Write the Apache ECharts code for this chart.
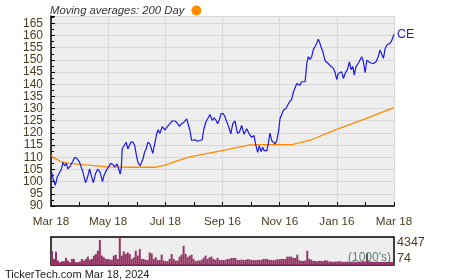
<!DOCTYPE html>
<html>
<head>
<meta charset="utf-8">
<script src="https://cdn.jsdelivr.net/npm/echarts@6/dist/echarts.min.js"></script>
<style>
html,body{margin:0;padding:0;background:#fff;}
#c{width:450px;height:280px;}
</style>
</head>
<body>
<div id="c"></div>
<script>
// x positions in months since Mar 18 (0..12)
const xTickLabels = ['Mar 18','May 18','Jul 18','Sep 16','Nov 16','Jan 16','Mar 18'];

const priceMonths = [0.01,0.07,0.15,0.22,0.28,0.36,0.42,0.48,0.54,0.59,0.68,0.77,0.83,0.92,1.00,1.10,1.15,1.21,1.27,1.35,1.41,1.48,1.56,1.64,1.72,1.80,1.85,1.93,1.99,2.09,2.17,2.23,2.31,2.37,2.42,2.46,2.49,2.55,2.63,2.69,2.79,2.87,2.93,2.98,3.04,3.12,3.22,3.28,3.33,3.39,3.46,3.56,3.64,3.70,3.75,3.81,3.89,3.99,4.07,4.16,4.24,4.34,4.42,4.49,4.57,4.66,4.75,4.80,4.86,4.92,4.98,5.04,5.12,5.21,5.29,5.35,5.42,5.50,5.56,5.64,5.71,5.77,5.83,5.89,5.95,6.03,6.09,6.15,6.20,6.29,6.36,6.44,6.52,6.59,6.67,6.75,6.85,6.94,7.02,7.10,7.17,7.23,7.29,7.35,7.41,7.46,7.55,7.60,7.66,7.72,7.78,7.84,7.90,7.93,7.97,8.01,8.07,8.13,8.22,8.28,8.34,8.42,8.48,8.54,8.60,8.65,8.71,8.77,8.83,8.89,8.95,9.00,9.06,9.12,9.18,9.24,9.30,9.35,9.39,9.44,9.51,9.59,9.67,9.76,9.82,9.88,9.94,10.00,10.05,10.11,10.17,10.23,10.29,10.37,10.44,10.50,10.56,10.61,10.67,10.75,10.81,10.87,10.93,10.99,11.05,11.10,11.16,11.22,11.28,11.37,11.45,11.51,11.57,11.63,11.69,11.75,11.80,11.86,11.92,12.00];
const priceValues = [104.5,101.4,98.5,102,102,105,107.9,106.5,107.5,105.2,106.5,108.6,110,109.4,107.9,104.5,102.4,99.6,101.4,105.2,102.4,99.6,103.4,105.2,103.8,100,102.4,104.5,105.2,107.5,107,106.1,107.3,105.2,103.1,105.8,113.4,112.7,116.2,113.4,116.2,116.2,114.8,111.3,107.9,106.5,109.4,112.4,113.4,116.2,115.5,111.6,116.2,119.8,121.3,119.8,122.6,121.2,122.6,123.8,124.9,124.9,124.1,122.7,123.8,124.5,125.8,125.2,121,116.9,116.2,117.2,116.6,116.9,117.2,121.7,124.5,126.2,127.6,125.2,126.2,125.2,123.8,125.5,127.9,127.9,126.5,124.5,123.1,119.6,123.8,124.9,119.9,120.3,123.1,119.5,121.7,119.5,118.2,118.9,114.8,112,114.8,112.3,114.1,112.7,112.7,115.5,119.9,116.9,117.2,115.5,116.9,117.2,121.3,125.8,126.6,129.3,130,130.4,132.7,133.8,136.8,137.5,140.3,141,139.6,141,141.2,141,148.6,151.3,150.2,151.3,154.3,155.5,156.8,158.5,157.5,155.5,153.4,149.6,148.8,147.8,147.2,146.5,144.7,141.9,144.4,144.1,145.1,142.3,144.4,146,149.2,146,147.2,143.7,147.2,148.6,148.3,151.3,149.2,144.7,149.9,149.2,148.8,149.2,148.5,149.2,151.3,154,153.2,150.6,154.7,156.1,155.6,156.8,157.9,160.5];

const maMonths = [0,0.35,0.59,1.19,1.99,2.76,3.64,3.99,4.44,4.86,5.98,6.96,7.49,8.43,9.06,10.04,10.99,12.00];
const maValues = [110.5,108.2,107.6,106.9,106.1,105.9,105.9,106.8,108.6,110.2,112.7,115.1,115.2,115.2,117.0,121.7,125.8,130.4];

// volume in thousands, evenly spaced across the year
const volumes = [2200,1000,2100,750,500,650,650,1150,750,500,1000,1000,500,500,600,1000,750,1000,1350,900,1000,1500,1750,2250,3900,1500,1250,1000,1000,900,900,1500,1650,1000,4347,1500,2150,1750,2000,1750,1000,1250,2250,1500,2500,1000,1000,850,850,2000,1850,1000,1250,850,850,1650,750,650,650,1000,1750,1000,750,750,1350,1650,3000,1750,1250,1500,1650,1000,650,750,750,850,1150,1500,1000,1250,1350,1000,850,1150,850,
850,850,850,1000,1000,1150,1150,1150,850,850,900,850,850,950,950,850,850,800,850,850,850,1000,1000,1000,850,850,800,850,950,950,1000,1000,1000,1350,1350,1350,1150,1150,1650,800,700,700,750,2250,1000,900,700,700,650,700,700,650,800,750,600,600,550,600,600,650,600,550,550,600,550,550,600,550,550,600,600,650,600,1800,650,600,550,550,600,550,550,550,550,550,550,550,550];
const volMin = 74, volMax = 4347;

const ticker = 'CE';
const maName = 'Moving averages: 200 Day';
const footerText = 'TickerTech.com Mar 18, 2024';
const unitText = "(1000's)";

const labelColor = '#4d3c1e';
const FONT = 'Liberation Sans, Arial, sans-serif';

const chart = echarts.init(document.getElementById('c'), null, {renderer:'canvas'});
chart.setOption({
  animation: false,
  backgroundColor: '#ffffff',
  legend: {
    left: 45, top: 0,
    align: 'right',
    icon: 'circle',
    itemWidth: 10, itemHeight: 10,
    itemGap: 4,
    data: [maName],
    textStyle: {fontStyle: 'italic', fontSize: 11.3, color: '#333', fontFamily: FONT, padding:[0,2,0,0]}
  },
  grid: [
    {left: 51, top: 16, width: 343, height: 190, show: true, backgroundColor: '#eeeeee', borderWidth: 0},
    {left: 51, top: 237, width: 343, height: 28, show: true, backgroundColor: '#eeeeee', borderColor: '#000', borderWidth: 1.5}
  ],
  xAxis: [
    {
      type: 'value', gridIndex: 0, min: 0, max: 12, interval: 2,
      axisLine: {show: true, lineStyle: {color: '#000', width: 1.5}},
      axisTick: {show: true, inside: true, length: 4, lineStyle: {color: '#000'}},
      minorTick: {show: true, splitNumber: 2, length: 4, lineStyle: {color: '#000'}},
      splitLine: {show: true, lineStyle: {color: '#d8d8d8', width: 1}},
      axisLabel: {formatter: v => xTickLabels[Math.round(v/2)], color: labelColor, fontSize: 11.7, fontFamily: FONT, margin: 10,
        showMinLabel: true, showMaxLabel: true, hideOverlap: false}
    },
    {
      type: 'category', gridIndex: 1, data: volumes.map((v,i)=>i),
      show: false, boundaryGap: true
    }
  ],
  yAxis: [
    {
      type: 'value', gridIndex: 0, min: 90, max: 168, interval: 5,
      axisLine: {show: true, lineStyle: {color: '#000', width: 1.5}},
      axisTick: {show: true, inside: true, length: 4, lineStyle: {color: '#000'}},
      minorTick: {show: true, splitNumber: 2, length: 3, lineStyle: {color: '#000'}},
      splitLine: {show: true, lineStyle: {color: '#d8d8d8', width: 1}},
      axisLabel: {formatter: v => (Math.round(v) % 5 === 0 ? String(Math.round(v)) : ''), color: labelColor, fontSize: 12, lineHeight: 10, fontFamily: FONT, margin: 8,
        showMinLabel: true, showMaxLabel: true, hideOverlap: false}
    },
    {
      type: 'value', gridIndex: 1, min: volMin, max: volMax, position: 'right',
      axisLine: {show: false}, axisTick: {show: false}, splitLine: {show: false},
      axisLabel: {
        formatter: v => ((v === volMin || v === volMax) ? String(v) : ''),
        color: labelColor, fontSize: 12.5, lineHeight: 12, fontFamily: FONT, margin: 3,
        showMinLabel: true, showMaxLabel: true, hideOverlap: false,
        verticalAlignMinLabel: 'bottom', verticalAlignMaxLabel: 'top'
      }
    }
  ],
  series: [
    {
      name: maName, type: 'line', xAxisIndex: 0, yAxisIndex: 0,
      data: maMonths.map((m,i)=>[m, maValues[i]]),
      showSymbol: false, symbol: 'none',
      lineStyle: {color: '#ff8c00', width: 1.3},
      itemStyle: {color: '#ff8c00'},
      z: 3
    },
    {
      name: ticker, type: 'line', xAxisIndex: 0, yAxisIndex: 0,
      data: priceMonths.map((m,i)=>[m, priceValues[i]]),
      showSymbol: false, symbol: 'none',
      lineStyle: {color: '#1a1ae6', width: 1.2},
      itemStyle: {color: '#1a1ae6'},
      endLabel: {show: true, formatter: ticker, color: '#1a1ae6', fontSize: 12.5, fontFamily: FONT, distance: 3},
      z: 4
    },
    {
      name: 'Volume', type: 'bar', xAxisIndex: 1, yAxisIndex: 1,
      data: volumes, barCategoryGap: '0%', clip: true,
      itemStyle: {color: '#993366'}
    }
  ],
  graphic: [
    {type: 'text', left: 348, top: 252, z: 10, style: {text: unitText, font: '12px ' + FONT, fill: 'rgba(70,110,90,0.85)'}},
    {type: 'text', left: 5, top: 269, style: {text: footerText, font: '11px ' + FONT, fill: '#222'}}
  ]
});
</script>
</body>
</html>
